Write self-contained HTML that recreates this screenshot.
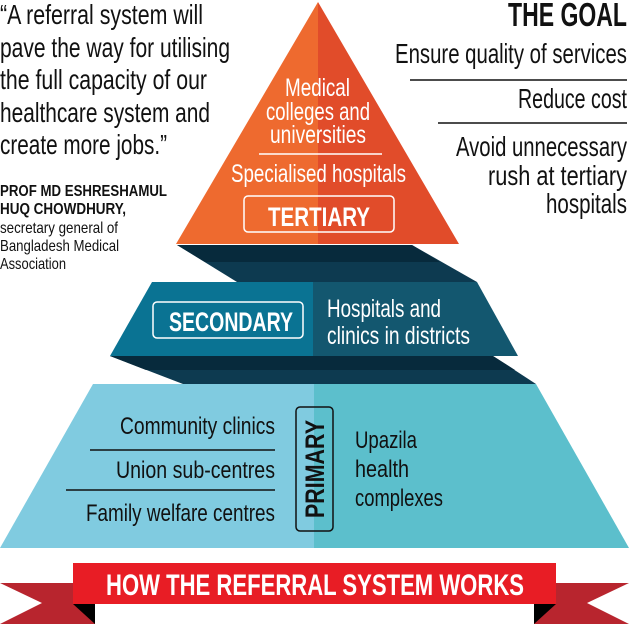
<!DOCTYPE html>
<html><head><meta charset="utf-8"><style>
html,body{margin:0;padding:0;background:#fff;width:629px;height:624px;overflow:hidden}
svg{display:block}
text{font-family:"Liberation Sans Narrow","Liberation Sans",sans-serif}
.b{font-weight:bold}
</style></head><body>
<svg width="629" height="624" viewBox="0 0 629 624" xmlns="http://www.w3.org/2000/svg">
<polygon points="177,245 412,245 477,282 237,282" fill="#0d3a50"/>
<polygon points="177,245 412,245 440,262 205,262" fill="#072a3c"/>
<polygon points="110,356 493,356 536,384 183,384" fill="#0d3a50"/>
<polygon points="110,356 493,356 515,370 146,370" fill="#072a3c"/>
<polygon points="318,2 318,244 176,244" fill="#ee6a2f"/>
<polygon points="318,2 459,244 318,244" fill="#e14c2a"/>
<polygon points="152,282 313,282 313,356 110,356" fill="#0a7393"/>
<polygon points="313,282 477,282 518,356 313,356" fill="#13576f"/>
<polygon points="93,384 314,384 314,548 0,548" fill="#80cbe0"/>
<polygon points="314,384 536,384 629,548 314,548" fill="#5cbfcc"/>

<g fill="#111" font-size="28">
<text x="0" y="24" textLength="203" lengthAdjust="spacingAndGlyphs">“A referral system will</text>
<text x="0" y="57" textLength="230" lengthAdjust="spacingAndGlyphs">pave the way for utilising</text>
<text x="0" y="89" textLength="207" lengthAdjust="spacingAndGlyphs">the full capacity of our</text>
<text x="0" y="122" textLength="210" lengthAdjust="spacingAndGlyphs">healthcare system and</text>
<text x="0" y="154" textLength="167" lengthAdjust="spacingAndGlyphs">create more jobs.”</text>
</g>
<g fill="#111">
<text class="b" x="0" y="196" font-size="16" textLength="167" lengthAdjust="spacingAndGlyphs">PROF MD ESHRESHAMUL</text>
<text class="b" x="0" y="214" font-size="16" textLength="126" lengthAdjust="spacingAndGlyphs">HUQ CHOWDHURY,</text>
<text x="0" y="233" font-size="16" textLength="118" lengthAdjust="spacingAndGlyphs">secretary general of</text>
<text x="0" y="251" font-size="16" textLength="119" lengthAdjust="spacingAndGlyphs">Bangladesh Medical</text>
<text x="0" y="269" font-size="16" textLength="66" lengthAdjust="spacingAndGlyphs">Association</text>
</g>

<g fill="#111" font-size="28">
<text class="b" x="508" y="26" font-size="33" textLength="119" lengthAdjust="spacingAndGlyphs">THE GOAL</text>
<text x="395" y="63" textLength="232" lengthAdjust="spacingAndGlyphs">Ensure quality of services</text>
<text x="518" y="108" textLength="109" lengthAdjust="spacingAndGlyphs">Reduce cost</text>
<text x="456" y="156" textLength="171" lengthAdjust="spacingAndGlyphs">Avoid unnecessary</text>
<text x="488" y="185" textLength="139" lengthAdjust="spacingAndGlyphs">rush at tertiary</text>
<text x="546" y="213" textLength="81" lengthAdjust="spacingAndGlyphs">hospitals</text>
</g>
<line x1="410" y1="80" x2="627" y2="80" stroke="#111" stroke-width="1.5"/>
<line x1="438" y1="123" x2="627" y2="123" stroke="#111" stroke-width="1.5"/>

<g fill="#fff" font-size="25">
<text x="285" y="96" textLength="65" lengthAdjust="spacingAndGlyphs">Medical</text>
<text x="266" y="120" textLength="104" lengthAdjust="spacingAndGlyphs">colleges and</text>
<text x="270" y="143" textLength="96" lengthAdjust="spacingAndGlyphs">universities</text>
<text x="231" y="182" textLength="175" lengthAdjust="spacingAndGlyphs">Specialised hospitals</text>
</g>
<line x1="259" y1="154" x2="382" y2="154" stroke="#fff" stroke-width="1.5"/>
<rect x="244" y="196" width="150" height="36" rx="4" fill="none" stroke="#fff" stroke-width="1.5"/>
<text class="b" x="268" y="226" font-size="27" fill="#fff" textLength="102" lengthAdjust="spacingAndGlyphs">TERTIARY</text>

<rect x="153" y="302" width="150" height="36" rx="4" fill="none" stroke="#fff" stroke-width="1.5"/>
<text class="b" x="169" y="331" font-size="27" fill="#fff" textLength="124" lengthAdjust="spacingAndGlyphs">SECONDARY</text>
<text x="327" y="317" font-size="25" fill="#fff" textLength="114" lengthAdjust="spacingAndGlyphs">Hospitals and</text>
<text x="327" y="344" font-size="25" fill="#fff" textLength="143" lengthAdjust="spacingAndGlyphs">clinics in districts</text>

<g fill="#111" font-size="24">
<text x="120" y="434" textLength="155" lengthAdjust="spacingAndGlyphs">Community clinics</text>
<text x="116" y="478" textLength="159" lengthAdjust="spacingAndGlyphs">Union  sub-centres</text>
<text x="86" y="521" textLength="189" lengthAdjust="spacingAndGlyphs">Family welfare centres</text>
<text x="355" y="448" textLength="62" lengthAdjust="spacingAndGlyphs">Upazila</text>
<text x="355" y="477" textLength="54" lengthAdjust="spacingAndGlyphs">health</text>
<text x="355" y="506" textLength="88" lengthAdjust="spacingAndGlyphs">complexes</text>
</g>
<line x1="90" y1="450" x2="275" y2="450" stroke="#111" stroke-width="1.5"/>
<line x1="66" y1="490" x2="275" y2="490" stroke="#111" stroke-width="1.5"/>
<rect x="296" y="407" width="37" height="124" rx="4" fill="none" stroke="#111" stroke-width="1.5"/>
<text class="b" font-size="27" fill="#111" transform="translate(324,518) rotate(-90)" textLength="98" lengthAdjust="spacingAndGlyphs">PRIMARY</text>

<polygon points="0,583 95,583 95,624 0,624 42,603" fill="#b8252e"/>
<polygon points="629,583 534,583 534,624 629,624 587,603" fill="#b8252e"/>
<polygon points="73,604 95,604 95,624" fill="#000"/>
<polygon points="556,604 534,604 534,624" fill="#000"/>
<rect x="73" y="563" width="483" height="41" fill="#e81d25"/>
<text class="b" x="106" y="595" font-size="30" fill="#fff" textLength="418" lengthAdjust="spacingAndGlyphs">HOW THE REFERRAL SYSTEM WORKS</text>
</svg>
</body></html>
